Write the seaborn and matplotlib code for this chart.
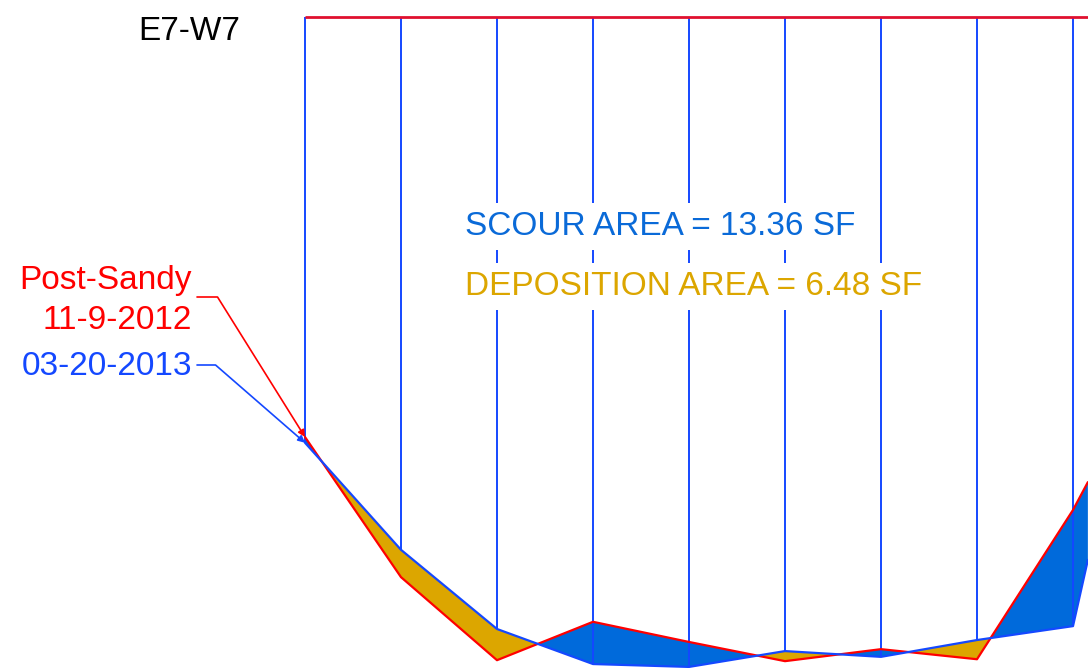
import numpy as np
import pandas as pd
import seaborn as sns
import matplotlib.pyplot as plt

# cross section E7-W7, station (ft) vs elevation (ft) below the reference line
stations = [0, 2, 4, 6, 8, 10, 12, 14, 16, 16.31]
post_sandy = [-8.75, -11.67, -13.40, -12.60, -13.02, -13.42, -13.17, -13.38, -10.27, -9.69]
march_2013 = [-8.87, -11.10, -12.75, -13.48, -13.54, -13.21, -13.33, -12.98, -12.69, -11.31]
grid_stations = stations[:9]
section_name = "E7-W7"
scour_label = "SCOUR AREA = 13.36 SF"
deposition_label = "DEPOSITION AREA = 6.48 SF"

df = pd.DataFrame({"station": stations * 2,
                   "elev": post_sandy + march_2013,
                   "survey": ["Post-Sandy"] * len(stations) + ["03-20-2013"] * len(stations)})

W, H = 1088, 668
RED = "#FF0000"
BLUE = "#1448FF"
FILL_BLUE = "#006ADB"
GOLD = "#DCA600"

sns.set_style("white")
plt.rcParams['font.family'] = ['Liberation Sans', 'DejaVu Sans']

fig = plt.figure(figsize=(W / 100, H / 100), dpi=100)
ax = fig.add_axes([0, 0, 1, 1])

x = np.array(stations)
old = np.array(post_sandy)
new = np.array(march_2013)

# scour (new below old) and deposition (new above old)
ax.fill_between(x, old, new, where=old >= new, interpolate=True, color=FILL_BLUE, lw=0, zorder=2)
ax.fill_between(x, old, new, where=new >= old, interpolate=True, color=GOLD, lw=0, zorder=2)

# grid verticals from reference line down to the 2013 profile
ax.vlines(grid_stations, march_2013[:9], 0, color=BLUE, lw=1.4, zorder=3)
ax.hlines(0, 0, 17, color="#E0102F", lw=2, zorder=3)

sns.lineplot(data=df, x="station", y="elev", hue="survey", sort=False,
             palette={"Post-Sandy": RED, "03-20-2013": BLUE}, lw=1.6,
             legend=False, ax=ax, zorder=4)

ax.set_xlim(-305 / 48, (W - 305) / 48)
ax.set_ylim(-(H - 17) / 48, 17 / 48)
ax.axis("off")

# labels
fig.text(240 / W, 1 - 40 / H, section_name, fontsize=24, ha="right", va="baseline", color="black")
box = dict(boxstyle="square,pad=0.25", fc="white", ec="none")
fig.text(465 / W, 1 - 235 / H, scour_label, fontsize=24, color="#0A6AD8", va="baseline", bbox=box, zorder=5)
fig.text(465 / W, 1 - 295 / H, deposition_label, fontsize=24, color=GOLD, va="baseline", bbox=box, zorder=5)

fig.text(192 / W, 1 - 289 / H, "Post-Sandy", fontsize=24, color=RED, ha="right", va="baseline")
fig.text(192 / W, 1 - 329 / H, "11-9-2012", fontsize=24, color=RED, ha="right", va="baseline")
fig.text(192 / W, 1 - 375 / H, "03-20-2013", fontsize=24, color=BLUE, ha="right", va="baseline")

ax.annotate("", xy=(stations[0], post_sandy[0]), xytext=(197 / W, 1 - 297 / H), textcoords="figure fraction",
            arrowprops=dict(arrowstyle="-|>", color=RED, lw=1.2, mutation_scale=10, shrinkA=0, shrinkB=0,
                            connectionstyle="angle,angleA=0,angleB=-58,rad=0"), zorder=6)
ax.annotate("", xy=(stations[0], march_2013[0]), xytext=(197 / W, 1 - 365 / H), textcoords="figure fraction",
            arrowprops=dict(arrowstyle="-|>", color=BLUE, lw=1.2, mutation_scale=10, shrinkA=0, shrinkB=0,
                            connectionstyle="angle,angleA=0,angleB=-41,rad=0"), zorder=6)

fig.savefig("out.png", dpi=100)
